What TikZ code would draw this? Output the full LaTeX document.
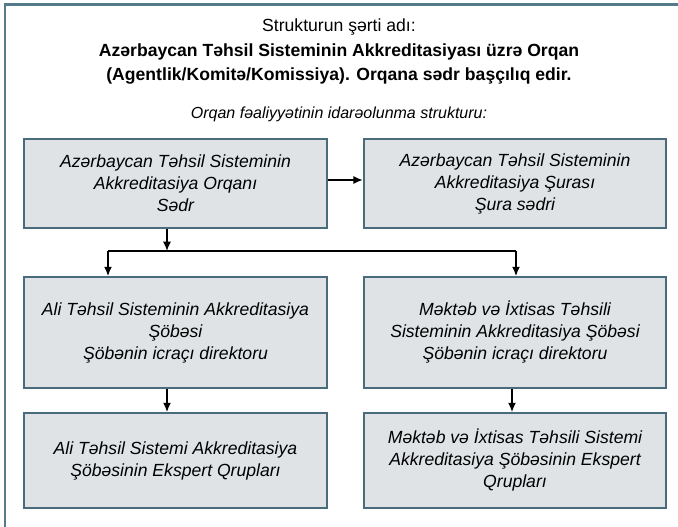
\documentclass[tikz,border=0pt]{standalone}
\usepackage{fontspec}
\setmainfont{Liberation Sans}
\usetikzlibrary{calc,arrows.meta}
\definecolor{framecol}{HTML}{557A8C}
\definecolor{boxline}{HTML}{4A6B7B}
\definecolor{boxfill}{HTML}{DFE3E6}
\begin{document}
\begin{tikzpicture}[x=0.75pt,y=-0.75pt,
  orgbox/.style={draw=boxline, fill=boxfill, line width=1.3pt, inner sep=0pt,
    minimum width=227pt, align=center, font=\fontsize{13.2}{16.5}\selectfont\itshape},
  arr/.style={line width=1.1pt, -{Latex[length=7pt,width=6pt]}},
  ln/.style={line width=1.1pt},
  hdr/.style={inner sep=0pt, align=center, font=\fontsize{13.2}{18}\selectfont}]
\useasboundingbox (0,0) rectangle (678,527);
\draw[framecol, line width=1.9pt] (5,527) -- (5,4.3) -- (678,4.3);

\node[hdr] (t1) at (339,27) {Strukturun şərti adı:};
\node[hdr, font=\fontsize{13.2}{18}\selectfont\bfseries] (t2) at (339,64)
  {Azərbaycan Təhsil Sisteminin Akkreditasiyası üzrə Orqan\\(Agentlik/Komitə/Komissiya). Orqana sədr başçılıq edir.};
\node[hdr, font=\fontsize{12}{18}\selectfont\itshape] (t3) at (339,114) {Orqan fəaliyyətinin idarəolunma strukturu:};

\node[orgbox, minimum height=66.75pt] (b1) at (175.5,183.5)
  {Azərbaycan Təhsil Sisteminin\\Akkreditasiya Orqanı\\Sədr};
\node[orgbox, minimum height=66.75pt] (b2) at (515,183.5)
  {Azərbaycan Təhsil Sisteminin\\Akkreditasiya Şurası\\Şura sədri};
\node[orgbox, minimum height=83.25pt] (b3) at (175.5,332.5)
  {Ali Təhsil Sisteminin Akkreditasiya\\Şöbəsi\\Şöbənin icraçı direktoru};
\node[orgbox, minimum height=83.25pt] (b4) at (515,332.5)
  {Məktəb və İxtisas Təhsili\\Sisteminin Akkreditasiya Şöbəsi\\Şöbənin icraçı direktoru};
\node[orgbox, minimum height=71.25pt] (b5) at (175.5,460.5)
  {Ali Təhsil Sistemi Akkreditasiya\\Şöbəsinin Ekspert Qrupları};
\node[orgbox, minimum height=71.25pt] (b6) at (515,460.5)
  {Məktəb və İxtisas Təhsili Sistemi\\Akkreditasiya Şöbəsinin Ekspert\\Qrupları};

\coordinate (hy) at (0,180);
\coordinate (busL) at (108,251);
\coordinate (busM) at (167,251);
\coordinate (busR) at (516,251);
\coordinate (colR) at (512,0);

\draw[arr] (b1.east |- hy) -- (b2.west |- hy);
\draw[arr] (busM |- b1.south) -- (busM);
\draw[ln] (busL) -- (busR);
\draw[arr] (busL) -- (busL |- b3.north);
\draw[arr] (busR) -- (busR |- b4.north);
\draw[arr] (busM |- b3.south) -- (busM |- b5.north);
\draw[arr] (colR |- b4.south) -- (colR |- b6.north);
\end{tikzpicture}
\end{document}
